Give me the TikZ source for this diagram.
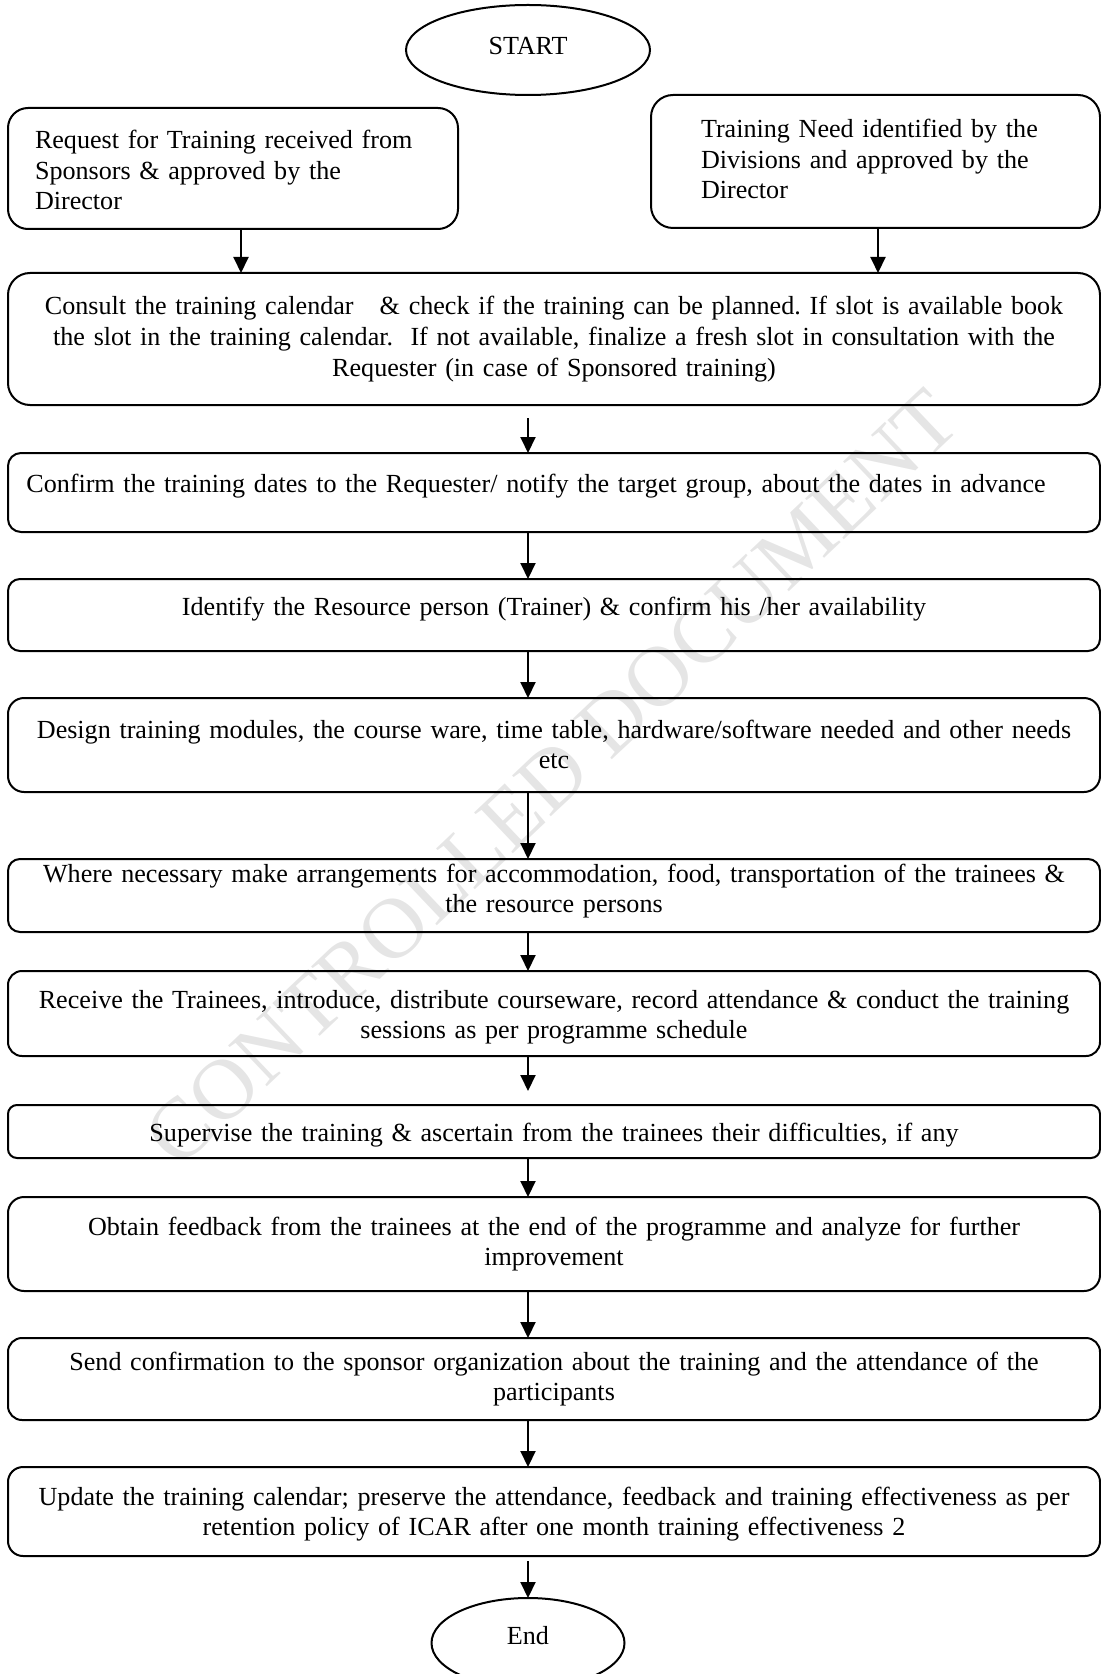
\documentclass[tikz,border=0pt]{standalone}
\usepackage{fontspec}
\setmainfont[Ligatures=CommonOff]{Liberation Serif}
\usetikzlibrary{arrows.meta,shapes.geometric}
\frenchspacing

\newcommand{\bodyfont}{\fontsize{13.05}{15.25}\selectfont}

\begin{document}
\begin{tikzpicture}[x=0.5pt,y=-0.5pt,
  every node/.style={inner sep=0pt, outer sep=0pt},
  stepbox/.style={draw, line width=1pt, minimum width=546pt},
  topbox/.style={draw, line width=1pt},
  term/.style={draw, ellipse, line width=1pt},
  txt/.style={font=\bodyfont, anchor=base, align=center, text width=560pt},
  ltxt/.style={font=\bodyfont, anchor=base west, align=left, text width=215pt},
  arr/.style={line width=1pt, -{Triangle[length=8pt,width=7.5pt]}},
  wmark/.style={text=black!10, font=\fontsize{43}{43}\selectfont}
]
\useasboundingbox (0,0) rectangle (1101,1674);

% faint watermark behind the chart
\node[wmark, rotate=43.5] (wm) at (552,778) {CONTROLLED DOCUMENT};

% terminals
\node[term, minimum width=122pt, minimum height=45pt] (start) at (528,50) {};
\node[font=\bodyfont, anchor=base] (tstart) at (528,55) {START};

% the two entry boxes
\node[topbox, rounded corners=10pt, minimum width=225pt, minimum height=60.5pt] (req) at (233,168.5) {};
\node[ltxt] (treq) at (35,149) {Request for Training received from\\Sponsors \& approved by the\\Director};

\node[topbox, rounded corners=11pt, minimum width=224.5pt, minimum height=66.5pt] (need) at (875.5,161.5) {};
\node[ltxt] (tneed) at (701,138) {Training Need identified by the\\Divisions and approved by the\\Director};

% process steps
\node[stepbox, rounded corners=11pt, minimum height=66pt] (consult) at (554,339) {};
\node[txt] (tconsult) at (554,315) {Consult the training calendar\ \ \ \& check if the training can be planned. If slot is available book\\the slot in the training calendar.\ \ If not available, finalize a fresh slot in consultation with the\\Requester (in case of Sponsored training)};

\node[stepbox, rounded corners=6.5pt, minimum height=39.5pt] (confirm) at (554,492.5) {};
\node[txt] (tconfirm) at (536,492) {Confirm the training dates to the Requester/ notify the target group, about the dates in advance};

\node[stepbox, rounded corners=6pt, minimum height=36pt] (ident) at (554,615) {};
\node[txt] (tident) at (554,615) {Identify the Resource person (Trainer) \& confirm his /her availability};

\node[stepbox, rounded corners=8pt, minimum height=47pt] (design) at (554,745) {};
\node[txt] (tdesign) at (554,738) {Design training modules, the course ware, time table, hardware/software needed and other needs\\etc};

\node[stepbox, rounded corners=6pt, minimum height=36.5pt] (where) at (554,895.5) {};
\node[txt] (twhere) at (554,882) {Where necessary make arrangements for accommodation, food, transportation of the trainees \&\\the resource persons};

\node[stepbox, rounded corners=7pt, minimum height=42.5pt] (receive) at (554,1013.5) {};
\node[txt] (treceive) at (554,1008) {Receive the Trainees, introduce, distribute courseware, record attendance \& conduct the training\\sessions as per programme schedule};

\node[stepbox, rounded corners=4.5pt, minimum height=26.5pt] (superv) at (554,1131.5) {};
\node[txt] (tsuperv) at (554,1141) {Supervise the training \& ascertain from the trainees their difficulties, if any};

\node[stepbox, rounded corners=8pt, minimum height=47pt] (obtain) at (554,1244) {};
\node[txt] (tobtain) at (554,1235) {Obtain feedback from the trainees at the end of the programme and analyze for further\\improvement};

\node[stepbox, rounded corners=7pt, minimum height=41pt] (send) at (554,1379) {};
\node[txt] (tsend) at (554,1370) {Send confirmation to the sponsor organization about the training and the attendance of the\\participants};

\node[stepbox, rounded corners=7.5pt, minimum height=44.5pt] (update) at (554,1511.5) {};
\node[txt] (tupdate) at (554,1505) {Update the training calendar; preserve the attendance, feedback and training effectiveness as per\\retention policy of ICAR after one month training effectiveness 2};

\node[term, minimum width=96.5pt, minimum height=45pt] (end) at (528,1643) {};
\node[font=\bodyfont, anchor=base] (tend) at (528,1644) {End};

% connectors
\draw[arr] ([xshift=4pt]req.south) -- ([xshift=4pt]req.south |- consult.north);
\draw[arr] ([xshift=1.25pt]need.south) -- ([xshift=1.25pt]need.south |- consult.north);
\draw[arr, shorten <=6.5pt] (consult.south -| start) -- (confirm.north -| start);
\draw[arr] (confirm.south -| start) -- (ident.north -| start);
\draw[arr] (ident.south -| start) -- (design.north -| start);
\draw[arr] (design.south -| start) -- (where.north -| start);
\draw[arr] (where.south -| start) -- (receive.north -| start);
\draw[arr, shorten >=7pt] (receive.south -| start) -- (superv.north -| start);
\draw[arr] (superv.south -| start) -- (obtain.north -| start);
\draw[arr] (obtain.south -| start) -- (send.north -| start);
\draw[arr] (send.south -| start) -- (update.north -| start);
\draw[arr, shorten <=2.5pt] (update.south -| start) -- (end.north);
\end{tikzpicture}
\end{document}
